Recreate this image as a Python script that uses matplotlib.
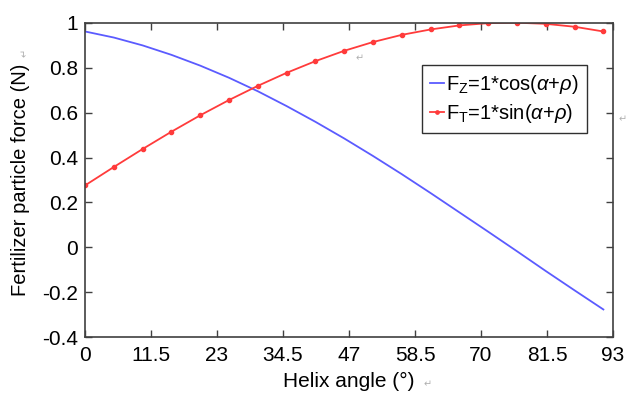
import numpy as np
import matplotlib
matplotlib.use('Agg')
from matplotlib import pyplot as plt

plt.rcParams['font.family'] = ['Liberation Sans', 'DejaVu Sans']
plt.rcParams['mathtext.fontset'] = 'custom'
plt.rcParams['mathtext.rm'] = 'Liberation Sans'
plt.rcParams['mathtext.it'] = 'Liberation Sans:italic'

# helix angle (degrees), one point every 5 degrees
angulo = [0, 5, 10, 15, 20, 25, 30, 35, 40, 45, 50, 55, 60, 65, 70, 75, 80, 85, 90]
# F_Z = 1*cos(a+p)
fuerza_z = [0.961, 0.934, 0.899, 0.857, 0.809, 0.755, 0.695, 0.629, 0.559, 0.485,
            0.407, 0.326, 0.242, 0.156, 0.070, -0.017, -0.105, -0.191, -0.276]
# F_T = 1*sin(a+p)
fuerza_t = [0.276, 0.358, 0.438, 0.515, 0.588, 0.656, 0.719, 0.777, 0.829, 0.875,
            0.914, 0.946, 0.970, 0.988, 0.998, 1.000, 0.995, 0.982, 0.961]

etiquetas_x = ['0', '11.5', '23', '34.5', '47', '58.5', '70', '81.5', '93']
etiquetas_y = ['-0.4', '-0.2', '0', '0.2', '0.4', '0.6', '0.8', '1']

x_max = 91.67  # axis ends a little past the last point

fig = plt.figure(figsize=(6.3, 3.95), dpi=100)
ax = fig.add_axes([0.135, 0.146, 0.838, 0.7965])

ax.plot(angulo, fuerza_z, color='#5b5bff', lw=1.3,
        label=r'F$_{\mathrm{Z}}$=1*cos($\mathit{\alpha}$+$\mathit{\rho}$)')
ax.plot(angulo, fuerza_t, color='#ff3b3b', lw=1.3, marker='o', ms=3,
        label=r'F$_{\mathrm{T}}$=1*sin($\mathit{\alpha}$+$\mathit{\rho}$)')

ax.set_xlim(0, x_max)
ax.set_ylim(-0.4, 1)
ax.set_xticks(np.linspace(0, x_max, 9))
ax.set_xticklabels(etiquetas_x)
ax.set_yticks([float(v) for v in etiquetas_y])
ax.set_yticklabels(etiquetas_y)

ax.tick_params(direction='in', length=5, width=1, color='#404040',
               labelsize=15, top=True, right=True, pad=5)
ax.tick_params(axis='x', pad=6)
for lado in ax.spines.values():
    lado.set_color('#404040')
    lado.set_linewidth(1.2)

ax.set_xlabel('Helix angle (°)', fontsize=15, labelpad=5)
ax.set_ylabel('Fertilizer particle force (N)', fontsize=14.5, labelpad=9)

ley = ax.legend(loc='upper right', bbox_to_anchor=(0.95, 0.865), fontsize=14.5,
                handlelength=0.7, handletextpad=0.1, borderpad=0.4,
                borderaxespad=0, labelspacing=0.3, fancybox=False,
                framealpha=1, edgecolor='#303030', markerscale=0.8)
ley.get_frame().set_linewidth(1.0)

# paragraph marks left in the source figure
gris = '#b0b0b0'
fig.text(0.565, 0.845, '\u21b5', fontsize=7, color=gris, family=['DejaVu Sans'])
fig.text(0.672, 0.02, '\u21b5', fontsize=7, color=gris, family=['DejaVu Sans'])
fig.text(0.032, 0.86, '\u21b5', fontsize=7, color=gris, family=['DejaVu Sans'], rotation=90)
fig.text(0.982, 0.69, '\u21b5', fontsize=7, color=gris, family=['DejaVu Sans'])

fig.savefig('out.png', dpi=100)
